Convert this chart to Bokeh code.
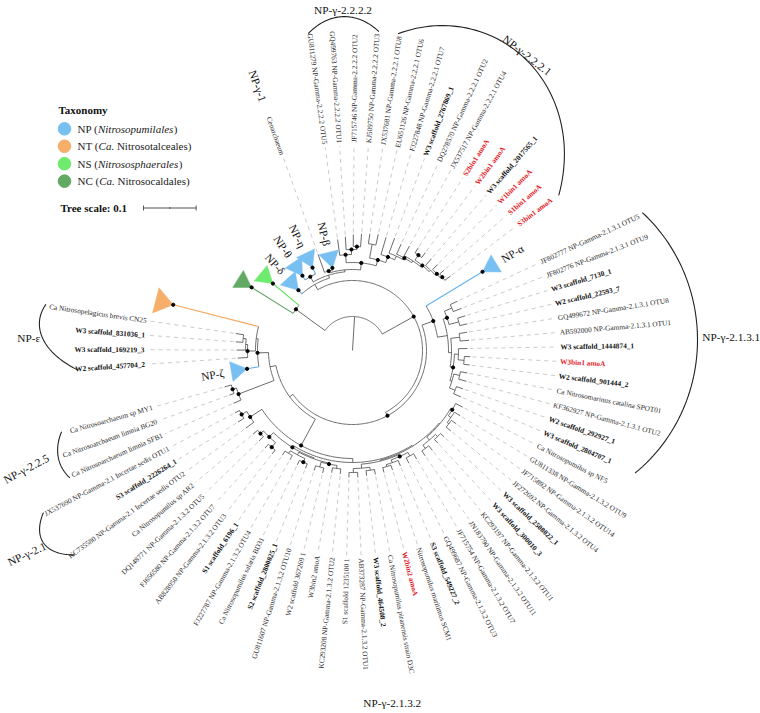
import math
import numpy as np
from bokeh.plotting import figure
from bokeh.models import ColumnDataSource, Range1d
from bokeh.core.properties import value
from bokeh.embed import file_html
from bokeh.resources import INLINE

# ---------------------------------------------------------------- data
CENARCHAEUM = ["Cenarchaeum"]
GAMMA_2222 = ["GU811279 NP-Gamma-2.2.2.2 OTU5", "GQ499763 NP-Gamma-2.2.2.2 OTU1",
              "JF715746 NP-Gamma-2.2.2.2 OTU2", "KJ509750 NP-Gamma-2.2.2.2 OTU3"]
GAMMA_2221 = ["JX537681 NP-Gamma-2.2.2.1 OTU8", "EU651126 NP-Gamma-2.2.2.1 OTU6",
              "FJ227848 NP-Gamma-2.2.2.1 OTU7", "W3 scaffold_2767869_1",
              "DQ278570 NP-Gamma-2.2.2.1 OTU2", "JX537517 NP-Gamma-2.2.2.1 OTU4",
              "S2bin1 amoA", "W2bin1 amoA", "W3 scaffold_2017565_1",
              "W1bin1 amoA", "S1bin1 amoA", "S3bin1 amoA"]
GAMMA_2131 = ["JF802777 NP-Gamma-2.1.3.1 OTU5", "JF802776 NP-Gamma-2.1.3.1 OTU9",
              "W3 scaffold_7130_1", "W2 scaffold_22593_7",
              "GQ499672 NP-Gamma-2.1.3.1 OTU8", "AB592000 NP-Gamma-2.1.3.1 OTU1",
              "W3 scaffold_1444874_1", "W3bin1 amoA", "W2 scaffold_901444_2",
              "Ca Nitrosomarinus catalina SPOT01", "KF362927 NP-Gamma-2.1.3.1 OTU2",
              "W2 scaffold_292927_1", "W3 scaffold_2804707_1"]
GAMMA_2132 = ["Ca Nitrosopumilus sp NF5", "GU811338 NP-Gamma-2.1.3.2 OTU9",
              "JF715892 NP-Gamma-2.1.3.2 OTU14", "JF272692 NP-Gamma-2.1.3.2 OTU4",
              "W3 scaffold_2508022_1", "W3 scaffold_300010_3",
              "KC293197 NP-Gamma-2.1.3.2 OTU1", "JN183790 NP-Gamma-2.1.3.2 OTU11",
              "JF715754 NP-Gamma-2.1.3.2 OTU7", "GQ499687 NP-Gamma-2.1.3.2 OTU3",
              "S3 scaffold_549227_2", "Nitrosopumilus maritimus SCM1", "W2bin2 amoA",
              "Ca Nitrosopumilus piranensis strain D3C", "W3 scaffold_464508_2",
              "AB373287 NP-Gamma-2.1.3.2 OTU1", "S1 scaffold 1235100 1",
              "KC293208 NP-Gamma-2.1.3.2 OTU2", "W3bin2 amoA", "W2 scaffold 367269 1",
              "GU811607 NP-Gamma-2.1.3.2 OTU10", "S2 scaffold_2800025_1",
              "Ca Nitrosopumilus salaria BD31", "FJ227787 NP-Gamma-2.1.3.2 OTU4",
              "S1 scaffold_6196_1", "AB828950 NP-Gamma-2.1.3.2 OTU3",
              "FJ656580 NP-Gamma-2.1.3.2 OTU7", "DQ148771 NP-Gamma-2.1.3.2 OTU5",
              "Ca Nitrosopumilus sp AR2"]
GAMMA_21 = ["KC735580 NP-Gamma-2.1 Incertae sedis OTU2", "S3 scaffold_2226264_1",
            "JX537690 NP-Gamma-2.1 Incertae sedis OTU1"]
GAMMA_225 = ["Ca Nitrosoarchaeum limnia SFB1", "Ca Nitrosoarchaeum limnia BG20",
             "Ca Nitrosoarchaeum sp MY1"]
EPSILON = ["W2 scaffold_457704_2", "W3 scaffold_169219_3", "W3 scaffold_831036_1",
           "Ca Nitrosopelagicus brevis CN25"]
RED_LABELS = ["S2bin1 amoA", "W2bin1 amoA", "W1bin1 amoA", "S1bin1 amoA", "S3bin1 amoA",
              "W3bin1 amoA", "W2bin2 amoA"]

# collapsed clades (triangles) and their taxonomy
COLLAPSED = ["NC", "NS", "NPd", "NPth", "NPeta", "NPb", "NPa", "NPz", "NT"]
COLLAPSED_TAXON = ["NC", "NS", "NP", "NP", "NP", "NP", "NP", "NP", "NT"]
COLLAPSED_TEXT = ["", "", "NP-δ", "NP-θ", "NP-η", "NP-β", "NP-α", "NP-ζ", ""]

TAXA = ["NP", "NT", "NS", "NC"]
TAXA_PREFIX = ["NP (", "NT (", "NS (", "NC ("]
TAXA_ITALIC = ["Nitrosopumilales", "Ca.", "Nitrososphaerales", "Ca."]
TAXA_SUFFIX = [")", "Nitrosotalceales)", ")", "Nitrosocaldales)"]

# tree topology, branch lengths in units of 0.0019 substitutions/site
# '@' = labelled leaf (labels taken in order), '*' = supported node
G2 = "(@:16,(@:13,(@:12,@:13)*:3)*:5)*"
G1 = "((@:10,@:11):14,(@:18,(@:16,(@:11,(@:11,((@:6,@:6)*:6,(@:9,(@:7,(@:6,@:7)*:2)*:2):2)*:2):2)*:2):4)*:6)*"
R1 = "(NPd:5,((NPth:5,NPeta:7)*:6,((@:19,NPb:2)*:2,(" + G2 + ":8," + G1 + ":6)*:7):2):3)"
G31 = "(((@:8,@:9):8,(@:8,@:8):10)*:4,((@:8,@:9):9,((@:9,(@:6,@:6):6):4,((@:7,@:8):6,(@:7,@:8):6):2)*:3):3)"
A = "(NPa:66," + G31 + ":10)*"
S1_ = "(@:8,(@:7,(@:6,@:6):2):3)*"
S2_ = "((@:5,@:5):3,(@:6,@:6):4)"
S3_ = "((@:6,@:6):4,(@:6,(@:5,@:5):2):3)*"
S4_ = "((@:5,@:5):3,(@:5,@:5):4)"
S5_ = "((@:5,@:5):3,(@:5,@:5):5)*"
S6_ = "((@:5,@:5)*:4,(@:5,@:5):3)"
S7_ = "((@:5,@:5)*:6,(@:6,@:6)*:4)*"
G32 = ("(((" + S1_ + ":2," + S2_ + ":4):1,(" + S3_ + ":2," + S4_ + ":4):1):1,((" +
       S5_ + ":1," + S6_ + ":3):1," + S7_ + ":6)*:2)")
G21 = "(@:10,(@:7,@:5)*:6)*"
G225 = "(@:8,(@:5,@:7)*:4)*"
EPS = "(@:10,(@:9,(@:7,@:8):3):2)*"
C = "(" + G225 + ":38,(NPz:12,(" + EPS + ":8,NT:88):2)*:11)"
B = "((" + G32 + ":4," + G21 + ":14)*:30," + C + ":6)"
R2 = "(" + A + ":12," + B + ":4)*"
TREE = "((NC:49,NS:34)*:36,(" + R1 + ":6," + R2 + ":4)*:36):34;"
SUBS_PER_UNIT = 0.0019
SCALE_BAR = 0.1

# ---------------------------------------------------------------- layout constants
W, H = 760, 713
CX, CY = 352.0, 363.0
START_ANGLE = 152.0
TRI_SLOTS = 2.0
END_GAP = 2.4
LABEL_R = 208.0
FONT = "Liberation Serif"
BRANCH = "#5a5a5a"
COLORS = {"NP": "#78c0f2", "NT": "#f6ae6a", "NS": "#6eea6e", "NC": "#62a964"}
LINE_COLORS = {"NP": "#62b2ee", "NT": "#f6a65e", "NS": "#5fe25f", "NC": "#58a05a"}


def parse(s):
    pos = 0

    def node():
        nonlocal pos
        n = {"ch": [], "name": "", "len": 0.0}
        if s[pos] == "(":
            pos += 1
            while True:
                n["ch"].append(node())
                if s[pos] == ",":
                    pos += 1
                    continue
                pos += 1
                break
        st = pos
        while pos < len(s) and s[pos] not in ":,();":
            pos += 1
        n["name"] = s[st:pos]
        if pos < len(s) and s[pos] == ":":
            pos += 1
            st = pos
            while pos < len(s) and s[pos] not in ",();":
                pos += 1
            n["len"] = float(s[st:pos])
        return n
    return node()


root = parse(TREE)
LABELS = CENARCHAEUM + GAMMA_2222 + GAMMA_2221 + GAMMA_2131 + GAMMA_2132 + GAMMA_21 + GAMMA_225 + EPSILON

leaves = []


def place(n, r0):
    n["r"] = r0 + n["len"]
    for c in n["ch"]:
        place(c, n["r"])
    if not n["ch"]:
        leaves.append(n)


place(root, 0.0)
total = sum(TRI_SLOTS if l["name"] in COLLAPSED else 1.0 for l in leaves) + END_GAP
step = 360.0 / total
u = 0.0
k = 0
for l in leaves:
    w = TRI_SLOTS if l["name"] in COLLAPSED else 1.0
    l["a"] = START_ANGLE - step * (u + w / 2)
    u += w
    if l["name"] not in COLLAPSED:
        l["label"] = LABELS[k]
        k += 1


def set_angle(n):
    if n["ch"]:
        for c in n["ch"]:
            set_angle(c)
        n["a"] = 0.5 * (n["ch"][0]["a"] + n["ch"][-1]["a"])


set_angle(root)


def pol(r, a):
    t = math.radians(a)
    return CX + r * math.cos(t), CY + r * math.sin(t)


p = figure(width=W, height=H, x_range=Range1d(0, W), y_range=Range1d(0, H),
           output_backend="svg", toolbar_location=None, min_border=0,
           x_axis_type=None, y_axis_type=None)
p.grid.visible = False
p.outline_line_color = None
p.background_fill_color = "white"

gx, gy, cxs, cys, ccol = [], [], [], [], []
dotx, doty = [], []
tri_xs, tri_ys, tri_col = [], [], []
dash_x, dash_y = [], []
lab = {}
tri_lab = {"x": [], "y": [], "text": [], "angle": []}


def walk(n, parent_r):
    a = n["a"]
    x0, y0 = pol(parent_r, a)
    x1, y1 = pol(n["r"], a)
    name = n["name"]
    if name in COLLAPSED:
        i = COLLAPSED.index(name)
        tax = COLLAPSED_TAXON[i]
        cxs.append([x0, x1]); cys.append([y0, y1]); ccol.append(LINE_COLORS[tax])
        big = name == "NT"
        tl, hw = (18.0, 13.0) if big else (16.0, 10.0)
        bx, by = pol(n["r"] + tl, a)
        t = math.radians(a)
        px_, py_ = -math.sin(t) * hw, math.cos(t) * hw
        tri_xs.append([x1, bx + px_, bx - px_]); tri_ys.append([y1, by + py_, by - py_])
        tri_col.append(COLORS[tax])
        dotx.append(x1); doty.append(y1)
        if COLLAPSED_TEXT[i]:
            lx, ly = pol(n["r"] + tl + 19, a)
            rot = a if -90 < ((a + 180) % 360 - 180) <= 90 else a - 180
            tri_lab["x"].append(lx); tri_lab["y"].append(ly)
            tri_lab["text"].append(COLLAPSED_TEXT[i]); tri_lab["angle"].append(math.radians(rot))
        return
    gx.append([x0, x1]); gy.append([y0, y1])
    if n["ch"]:
        a0, a1 = n["ch"][0]["a"], n["ch"][-1]["a"]
        m = max(2, int(abs(a1 - a0)) + 2)
        ang = np.linspace(a0, a1, m)
        gx.append(list(CX + n["r"] * np.cos(np.radians(ang))))
        gy.append(list(CY + n["r"] * np.sin(np.radians(ang))))
        if name == "*":
            dotx.append(x1); doty.append(y1)
        for c in n["ch"]:
            walk(c, n["r"])
    else:
        sx, sy = pol(n["r"] + 2, a)
        ex, ey = pol(LABEL_R - 3, a)
        dash_x.append([sx, ex]); dash_y.append([sy, ey])
        lx, ly = pol(LABEL_R, a)
        aa = (a + 180) % 360 - 180
        right = -90 < aa <= 90
        rot = aa if right else aa - 180
        txt = n["label"]
        if txt in RED_LABELS:
            style, col = "bold", "#e3161d"
        elif "scaffold_" in txt:
            style, col = "bold", "#111111"
        else:
            style, col = "normal", "#2a2a2a"
        key = ("left" if right else "right", style, col)
        d = lab.setdefault(key, {"x": [], "y": [], "text": [], "angle": []})
        d["x"].append(lx); d["y"].append(ly); d["text"].append(txt); d["angle"].append(math.radians(rot))


walk(root, 0.0)

p.multi_line(xs=dash_x, ys=dash_y, line_color="#bdbdbd", line_width=0.8, line_dash="4 4")
p.multi_line(xs=gx, ys=gy, line_color=BRANCH, line_width=0.9)
p.multi_line(xs=cxs, ys=cys, line_color=ccol, line_width=1.1)
p.patches(xs=tri_xs, ys=tri_ys, fill_color=tri_col, line_color=tri_col, line_width=0.5)
p.scatter(x=dotx, y=doty, size=3.2, color="black")

for (align, style, col), d in lab.items():
    p.text(x="x", y="y", text="text", angle="angle", source=ColumnDataSource(d),
           text_align=align, text_baseline="middle", text_font=value(FONT),
           text_font_size="7.3px", text_font_style=style, text_color=col)

p.text(x="x", y="y", text="text", angle="angle", source=ColumnDataSource(tri_lab),
       text_align="center", text_baseline="middle", text_font=value(FONT),
       text_font_size="11.3px", text_color="#111111")

# group label for Cenarchaeum
cen = [l for l in leaves if l.get("label") == "Cenarchaeum"][0]
gx1, gy1 = pol(281, cen["a"])
p.text(x=[gx1], y=[gy1], text=["NP-γ-1"], angle=[math.radians(cen["a"] - 180)],
       text_align="center", text_baseline="middle", text_font=value(FONT),
       text_font_size="11.3px", text_color="#111111")

# brackets: (text, first, last, r_start, r_mid, r_end, label_r, label_da, label_rot, align)
BRACKETS = [
    ("NP-γ-2.2.2.2", GAMMA_2222[0], GAMMA_2222[-1], 320, 334, 320, 341, 0.0, 0, "center"),
    ("NP-γ-2.2.2.1", GAMMA_2221[0], GAMMA_2221[-1], 320, 339, 258, 343, 0.0, -38, "center"),
    ("NP-γ-2.1.3.1", GAMMA_2131[0], GAMMA_2131[-1], 321, 345, 308, 350, 1.2, 0, "left"),
    ("NP-γ-2.1", GAMMA_21[0], GAMMA_21[-1], 345, 364, 349, 384, 0.0, 25, "center"),
    ("NP-γ-2.2.5", GAMMA_225[0], GAMMA_225[-1], 310, 313, 302, 347, 0.0, 28, "center"),
    ("NP-ε", EPSILON[0], EPSILON[-1], 275, 310, 310, 324, 0.0, 0, "center"),
    ("NP-γ-2.1.3.2", GAMMA_2132[0], GAMMA_2132[-1], None, None, None, 355, 0.0, 0, "center"),
]
ang_of = {l["label"]: l["a"] for l in leaves if "label" in l}
bx_, by_ = [], []
for txt, f, la, r0, rm, r1, lr, da, rot, al in BRACKETS:
    a0, a1 = ang_of[f] + 0.3, ang_of[la] - 0.3
    if r0 is not None:
        t = np.linspace(0, 1, 60)
        rr = r0 * (1 - t) * (1 - 2 * t) + rm * 4 * t * (1 - t) + r1 * t * (2 * t - 1)
        aa = np.radians(a0 + (a1 - a0) * t)
        bx_.append(list(CX + rr * np.cos(aa))); by_.append(list(CY + rr * np.sin(aa)))
    lx, ly = pol(lr, 0.5 * (a0 + a1) + da)
    p.text(x=[lx], y=[ly], text=[txt], angle=[math.radians(rot)], text_align=al,
           text_baseline="middle", text_font=value(FONT), text_font_size="11.3px",
           text_color="#111111")
p.multi_line(xs=bx_, ys=by_, line_color="#222222", line_width=1.1)

# ---------------------------------------------------------------- legend
REG = {"N": 722, "P": 556, "T": 611, "S": 556, "C": 667, " ": 250, "(": 333}
ITA = {"N": 667, "i": 278, "t": 278, "r": 389, "o": 500, "s": 389, "p": 500, "u": 500,
       "m": 722, "l": 278, "a": 500, "e": 444, "h": 500, "C": 667, ".": 250}
LFS = 11.0
LX, LY0, LDY = 64.0, 584.7, 17.45
p.text(x=[LX - 6], y=[604], text=["Taxonomy"], text_align="left", text_baseline="middle",
       text_font=value(FONT), text_font_size="11px", text_font_style="bold", text_color="#111111")
for i, tax in enumerate(TAXA):
    y = LY0 - i * LDY
    p.scatter(x=[LX], y=[y], size=12.6, color=COLORS[tax])
    x = LX + 13
    p.text(x=[x], y=[y], text=[TAXA_PREFIX[i].strip()], text_align="left", text_baseline="middle",
           text_font=value(FONT), text_font_size="11px", text_color="#222222")
    x += sum(REG[c] for c in TAXA_PREFIX[i]) / 1000 * LFS
    p.text(x=[x], y=[y], text=[TAXA_ITALIC[i]], text_align="left", text_baseline="middle",
           text_font=value(FONT), text_font_size="11px", text_font_style="italic",
           text_color="#222222")
    x += sum(ITA[c] for c in TAXA_ITALIC[i]) / 1000 * LFS
    if TAXA_SUFFIX[i] != ")":
        x += 250 / 1000 * LFS
    p.text(x=[x], y=[y], text=[TAXA_SUFFIX[i]], text_align="left", text_baseline="middle",
           text_font=value(FONT), text_font_size="11px", text_color="#222222")

sy = 505.5
p.text(x=[LX - 4], y=[sy], text=["Tree scale: " + str(SCALE_BAR)], text_align="left",
       text_baseline="middle", text_font=value(FONT), text_font_size="11px",
       text_font_style="bold", text_color="#111111")
bar = SCALE_BAR / SUBS_PER_UNIT
s0 = 143.0
p.multi_line(xs=[[s0, s0 + bar], [s0, s0], [s0 + bar, s0 + bar], [s0 + bar / 2, s0 + bar / 2]],
             ys=[[sy, sy], [sy - 2.5, sy + 2.5], [sy - 2.5, sy + 2.5], [sy - 1, sy + 1]],
             line_color="#555555", line_width=1)

open("out.html", "w").write(file_html(p, INLINE))
